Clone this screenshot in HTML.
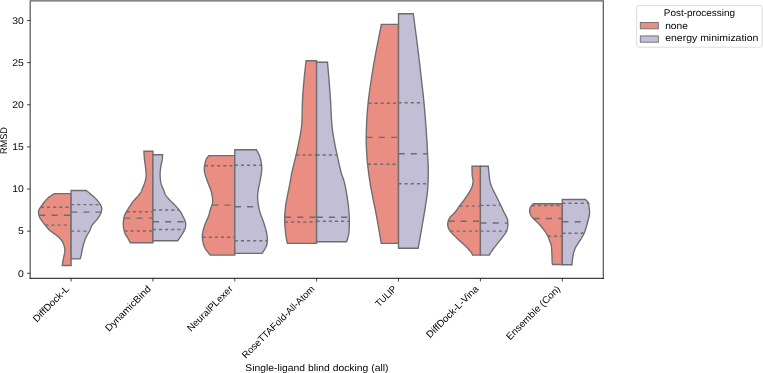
<!DOCTYPE html>
<html><head><meta charset="utf-8"><style>
html,body{margin:0;padding:0;background:#fff;width:763px;height:373px;overflow:hidden}
svg{display:block}
.t{font-family:"Liberation Sans",sans-serif;font-size:9.7px;fill:#000;text-rendering:geometricPrecision}
</style></head><body>
<svg width="763" height="373" viewBox="0 0 763 373">
<path d="M71.1 193.6L54.5 193.6L53.78 194.06L52.77 194.68L51.57 195.42L50.31 196.25L49.08 197.12L48 198L47.04 198.91L46.12 199.88L45.23 200.9L44.38 201.94L43.57 202.98L42.8 204L42.05 205.03L41.3 206.11L40.6 207.19L39.96 208.22L39.42 209.17L39 210L38.72 210.65L38.55 211.15L38.48 211.56L38.47 211.96L38.52 212.42L38.6 213L38.69 213.69L38.8 214.44L38.96 215.25L39.2 216.11L39.54 217.03L40 218L40.62 219.06L41.38 220.22L42.24 221.44L43.16 222.67L44.1 223.87L45 225L45.89 226.08L46.81 227.16L47.74 228.21L48.67 229.21L49.59 230.14L50.5 231L51.41 231.76L52.33 232.44L53.24 233.05L54.12 233.62L54.95 234.16L55.7 234.7L56.37 235.21L56.96 235.69L57.51 236.13L58.01 236.57L58.51 237.02L59 237.5L59.5 238.01L59.98 238.53L60.44 239.07L60.89 239.61L61.31 240.16L61.7 240.7L62.06 241.24L62.39 241.77L62.7 242.3L62.99 242.84L63.25 243.41L63.5 244L63.73 244.63L63.95 245.3L64.15 245.98L64.33 246.67L64.48 247.35L64.6 248L64.7 248.61L64.77 249.2L64.82 249.77L64.84 250.36L64.83 250.96L64.8 251.6L64.73 252.28L64.62 252.98L64.48 253.7L64.33 254.44L64.16 255.21L64 256L63.83 256.83L63.64 257.71L63.44 258.61L63.24 259.5L63.06 260.38L62.9 261.2L62.76 262.02L62.64 262.86L62.53 263.67L62.44 264.42L62.36 265.04L62.3 265.5L71.1 265.5Z" fill="#ea8e83" stroke="#6d6d6d" stroke-width="1.36" stroke-linejoin="miter"/>
<line x1="40.9" y1="207.2" x2="71.1" y2="207.2" stroke="#6d6d6d" stroke-width="1.36" stroke-dasharray="3.06 3.06"/>
<line x1="39.3" y1="215.3" x2="71.1" y2="215.3" stroke="#6d6d6d" stroke-width="1.36" stroke-dasharray="6.12 6.12"/>
<line x1="45.34" y1="225.1" x2="71.1" y2="225.1" stroke="#6d6d6d" stroke-width="1.36" stroke-dasharray="3.06 3.06"/>
<path d="M71.1 190.5L86.2 190.5L86.84 191.01L87.73 191.71L88.79 192.55L89.91 193.45L91.01 194.36L92 195.2L92.9 195.99L93.78 196.79L94.64 197.58L95.47 198.38L96.26 199.19L97 200L97.7 200.83L98.36 201.69L98.98 202.55L99.55 203.4L100.06 204.22L100.5 205L100.87 205.71L101.19 206.37L101.45 207L101.64 207.63L101.76 208.29L101.8 209L101.76 209.77L101.64 210.57L101.45 211.41L101.19 212.26L100.87 213.13L100.5 214L100.06 214.89L99.54 215.8L98.97 216.72L98.34 217.65L97.68 218.58L97 219.5L96.25 220.41L95.41 221.31L94.54 222.22L93.69 223.13L92.89 224.05L92.2 225L91.64 225.99L91.16 227.04L90.75 228.09L90.37 229.13L90 230.11L89.6 231L89.19 231.77L88.78 232.44L88.38 233.06L87.99 233.67L87.59 234.3L87.2 235L86.81 235.75L86.42 236.52L86.03 237.31L85.65 238.15L85.27 239.04L84.9 240L84.53 241.04L84.17 242.15L83.81 243.31L83.46 244.52L83.12 245.75L82.8 247L82.5 248.32L82.21 249.74L81.94 251.19L81.68 252.6L81.43 253.89L81.2 255L80.98 255.93L80.76 256.75L80.55 257.45L80.37 258.04L80.21 258.52L80.1 258.9L71.1 258.9Z" fill="#c1bed6" stroke="#6d6d6d" stroke-width="1.36" stroke-linejoin="miter"/>
<line x1="71.1" y1="204.6" x2="99.98" y2="204.6" stroke="#6d6d6d" stroke-width="1.36" stroke-dasharray="3.06 3.06"/>
<line x1="71.1" y1="212.1" x2="100.94" y2="212.1" stroke="#6d6d6d" stroke-width="1.36" stroke-dasharray="6.12 6.12"/>
<line x1="71.1" y1="231.1" x2="89.36" y2="231.1" stroke="#6d6d6d" stroke-width="1.36" stroke-dasharray="3.06 3.06"/>
<path d="M152.9 151.3L143.9 151.3L143.93 151.82L143.98 152.55L144.03 153.41L144.09 154.33L144.15 155.21L144.2 156L144.24 156.66L144.28 157.26L144.32 157.83L144.36 158.41L144.42 159.06L144.5 159.8L144.61 160.66L144.73 161.61L144.88 162.62L145.02 163.66L145.17 164.69L145.3 165.7L145.43 166.68L145.57 167.67L145.7 168.65L145.82 169.63L145.93 170.62L146 171.6L146.06 172.58L146.11 173.57L146.14 174.55L146.14 175.53L146.09 176.52L146 177.5L145.84 178.5L145.63 179.51L145.37 180.52L145.09 181.52L144.79 182.49L144.5 183.4L144.2 184.26L143.89 185.09L143.56 185.88L143.23 186.64L142.9 187.38L142.6 188.1L142.33 188.8L142.09 189.47L141.85 190.11L141.6 190.74L141.33 191.37L141 192L140.64 192.61L140.26 193.19L139.86 193.76L139.4 194.35L138.89 194.99L138.3 195.7L137.6 196.5L136.79 197.37L135.91 198.29L135.03 199.24L134.17 200.18L133.4 201.1L132.71 202L132.06 202.9L131.45 203.81L130.86 204.71L130.28 205.61L129.7 206.5L129.11 207.41L128.51 208.35L127.92 209.29L127.37 210.19L126.85 211.04L126.4 211.8L126.02 212.43L125.69 212.96L125.41 213.42L125.16 213.88L124.93 214.39L124.7 215L124.47 215.74L124.26 216.56L124.06 217.43L123.89 218.31L123.73 219.18L123.6 220L123.49 220.77L123.41 221.5L123.35 222.23L123.31 222.94L123.29 223.66L123.3 224.4L123.33 225.15L123.37 225.91L123.44 226.68L123.54 227.44L123.66 228.22L123.8 229L123.97 229.79L124.15 230.59L124.36 231.4L124.6 232.21L124.88 233.01L125.2 233.8L125.59 234.58L126.05 235.36L126.54 236.13L127.05 236.9L127.55 237.65L128 238.4L128.44 239.18L128.89 240.01L129.32 240.84L129.72 241.6L130.06 242.24L130.3 242.7L152.9 242.7Z" fill="#ea8e83" stroke="#6d6d6d" stroke-width="1.36" stroke-linejoin="miter"/>
<line x1="126.67" y1="211.8" x2="152.9" y2="211.8" stroke="#6d6d6d" stroke-width="1.36" stroke-dasharray="3.06 3.06"/>
<line x1="124.22" y1="218.1" x2="152.9" y2="218.1" stroke="#6d6d6d" stroke-width="1.36" stroke-dasharray="6.12 6.12"/>
<line x1="124.54" y1="231" x2="152.9" y2="231" stroke="#6d6d6d" stroke-width="1.36" stroke-dasharray="3.06 3.06"/>
<path d="M152.9 154.7L162.6 154.7L162.58 154.94L162.55 155.28L162.51 155.67L162.47 156.11L162.44 156.56L162.4 157L162.38 157.4L162.37 157.78L162.36 158.18L162.34 158.62L162.29 159.15L162.2 159.8L162.05 160.6L161.86 161.54L161.64 162.56L161.41 163.62L161.19 164.68L161 165.7L160.83 166.68L160.67 167.67L160.53 168.65L160.39 169.63L160.28 170.62L160.2 171.6L160.14 172.58L160.11 173.57L160.1 174.55L160.11 175.53L160.14 176.52L160.2 177.5L160.28 178.5L160.37 179.51L160.49 180.52L160.63 181.52L160.8 182.49L161 183.4L161.25 184.27L161.54 185.1L161.86 185.91L162.19 186.67L162.51 187.41L162.8 188.1L163.05 188.73L163.28 189.3L163.5 189.83L163.72 190.36L163.95 190.9L164.2 191.5L164.44 192.14L164.66 192.8L164.89 193.48L165.16 194.18L165.52 194.92L166 195.7L166.62 196.53L167.36 197.41L168.18 198.32L169.04 199.26L169.93 200.19L170.8 201.1L171.68 202L172.6 202.9L173.53 203.81L174.46 204.71L175.36 205.61L176.2 206.5L177.01 207.41L177.8 208.33L178.56 209.26L179.28 210.16L179.93 211.01L180.5 211.8L180.96 212.5L181.33 213.12L181.63 213.7L181.9 214.27L182.18 214.86L182.5 215.5L182.87 216.2L183.26 216.94L183.66 217.71L184.05 218.48L184.4 219.25L184.7 220L184.96 220.74L185.19 221.47L185.39 222.19L185.54 222.92L185.65 223.66L185.7 224.4L185.69 225.15L185.63 225.91L185.52 226.68L185.36 227.44L185.15 228.22L184.9 229L184.58 229.8L184.19 230.63L183.75 231.46L183.29 232.27L182.83 233.06L182.4 233.8L181.99 234.48L181.59 235.13L181.19 235.74L180.79 236.34L180.39 236.92L180 237.5L179.58 238.11L179.14 238.75L178.7 239.38L178.29 239.96L177.95 240.45L177.7 240.8L152.9 240.8Z" fill="#c1bed6" stroke="#6d6d6d" stroke-width="1.36" stroke-linejoin="miter"/>
<line x1="152.9" y1="210" x2="178.89" y2="210" stroke="#6d6d6d" stroke-width="1.36" stroke-dasharray="3.06 3.06"/>
<line x1="152.9" y1="221.8" x2="184.96" y2="221.8" stroke="#6d6d6d" stroke-width="1.36" stroke-dasharray="6.12 6.12"/>
<line x1="152.9" y1="229.5" x2="184.38" y2="229.5" stroke="#6d6d6d" stroke-width="1.36" stroke-dasharray="3.06 3.06"/>
<path d="M234.8 155.6L208.8 155.6L208.47 156.03L208 156.6L207.45 157.29L206.88 158.09L206.34 159L205.9 160L205.53 161.17L205.19 162.54L204.88 164.01L204.61 165.5L204.42 166.93L204.3 168.2L204.27 169.3L204.31 170.3L204.43 171.22L204.59 172.13L204.78 173.04L205 174L205.25 175L205.55 176.01L205.88 177.04L206.24 178.07L206.62 179.13L207 180.2L207.41 181.31L207.84 182.45L208.3 183.61L208.76 184.76L209.19 185.9L209.6 187L209.98 188.02L210.34 188.98L210.69 189.92L211.02 190.89L211.33 191.93L211.6 193.1L211.87 194.44L212.16 195.93L212.41 197.49L212.61 199.07L212.72 200.59L212.7 202L212.52 203.28L212.2 204.48L211.79 205.62L211.33 206.74L210.89 207.86L210.5 209L210.19 210.11L209.93 211.17L209.68 212.23L209.4 213.34L209.05 214.54L208.6 215.9L208 217.44L207.26 219.14L206.46 220.93L205.65 222.77L204.91 224.61L204.3 226.4L203.78 228.14L203.3 229.87L202.89 231.6L202.56 233.33L202.36 235.06L202.3 236.8L202.4 238.58L202.62 240.39L202.97 242.21L203.42 244L203.97 245.71L204.6 247.3L205.42 248.85L206.46 250.39L207.59 251.86L208.7 253.18L209.64 254.28L210.3 255.1L234.8 255.1Z" fill="#ea8e83" stroke="#6d6d6d" stroke-width="1.36" stroke-linejoin="miter"/>
<line x1="204.88" y1="165.8" x2="234.8" y2="165.8" stroke="#6d6d6d" stroke-width="1.36" stroke-dasharray="3.06 3.06"/>
<line x1="212.2" y1="205.1" x2="234.8" y2="205.1" stroke="#6d6d6d" stroke-width="1.36" stroke-dasharray="6.12 6.12"/>
<line x1="202.65" y1="237.2" x2="234.8" y2="237.2" stroke="#6d6d6d" stroke-width="1.36" stroke-dasharray="3.06 3.06"/>
<path d="M234.8 149.7L256.4 149.7L256.76 150.35L257.27 151.23L257.88 152.29L258.5 153.47L259.1 154.72L259.6 156L260.03 157.37L260.43 158.87L260.81 160.46L261.13 162.05L261.4 163.58L261.6 165L261.72 166.26L261.77 167.41L261.77 168.5L261.71 169.59L261.62 170.74L261.5 172L261.33 173.38L261.11 174.85L260.85 176.38L260.57 177.93L260.28 179.48L260 181L259.72 182.52L259.41 184.07L259.1 185.62L258.8 187.15L258.53 188.62L258.3 190L258.11 191.28L257.94 192.48L257.81 193.62L257.7 194.74L257.63 195.86L257.6 197L257.61 198.14L257.65 199.26L257.73 200.38L257.85 201.52L258 202.72L258.2 204L258.44 205.38L258.71 206.85L259.03 208.38L259.39 209.93L259.78 211.48L260.2 213L260.68 214.5L261.23 216L261.81 217.5L262.4 219L262.97 220.5L263.5 222L264 223.52L264.5 225.05L264.99 226.59L265.44 228.1L265.85 229.58L266.2 231L266.5 232.35L266.76 233.64L266.97 234.9L267.14 236.13L267.25 237.36L267.3 238.6L267.31 239.84L267.27 241.08L267.19 242.31L267.03 243.54L266.77 244.77L266.4 246L265.83 247.32L265.06 248.74L264.19 250.16L263.34 251.48L262.61 252.59L262.1 253.4L234.8 253.4Z" fill="#c1bed6" stroke="#6d6d6d" stroke-width="1.36" stroke-linejoin="miter"/>
<line x1="234.8" y1="165.3" x2="261.36" y2="165.3" stroke="#6d6d6d" stroke-width="1.36" stroke-dasharray="3.06 3.06"/>
<line x1="234.8" y1="206.7" x2="258.45" y2="206.7" stroke="#6d6d6d" stroke-width="1.36" stroke-dasharray="6.12 6.12"/>
<line x1="234.8" y1="240.7" x2="266.96" y2="240.7" stroke="#6d6d6d" stroke-width="1.36" stroke-dasharray="3.06 3.06"/>
<path d="M316.6 60.7L306.1 60.7L305.86 62.79L305.53 65.68L305.14 69.1L304.73 72.8L304.34 76.52L304 80L303.71 83.23L303.43 86.43L303.17 89.64L302.93 92.94L302.7 96.37L302.5 100L302.35 103.97L302.26 108.24L302.19 112.66L302.1 117.04L301.95 121.22L301.7 125L301.34 128.4L300.88 131.54L300.37 134.48L299.83 137.24L299.3 139.87L298.8 142.4L298.35 144.73L297.94 146.79L297.53 148.73L297.1 150.65L296.63 152.7L296.1 155L295.48 157.62L294.77 160.49L294.03 163.47L293.29 166.47L292.6 169.35L292 172L291.49 174.44L291.05 176.78L290.66 179L290.29 181.11L289.95 183.11L289.6 185L289.26 186.74L288.95 188.33L288.65 189.81L288.36 191.22L288.08 192.6L287.8 194L287.51 195.39L287.23 196.74L286.95 198.06L286.68 199.37L286.43 200.68L286.2 202L285.99 203.31L285.81 204.6L285.64 205.88L285.48 207.19L285.34 208.56L285.2 210L285.06 211.54L284.92 213.15L284.79 214.82L284.69 216.51L284.62 218.22L284.6 219.9L284.64 221.61L284.73 223.37L284.86 225.13L285.01 226.86L285.16 228.49L285.3 230L285.42 231.35L285.54 232.59L285.66 233.73L285.79 234.83L285.94 235.9L286.1 237L286.3 238.18L286.54 239.41L286.8 240.64L287.04 241.76L287.25 242.71L287.4 243.4L316.6 243.4Z" fill="#ea8e83" stroke="#6d6d6d" stroke-width="1.36" stroke-linejoin="miter"/>
<line x1="296.31" y1="155" x2="316.6" y2="155" stroke="#6d6d6d" stroke-width="1.36" stroke-dasharray="3.06 3.06"/>
<line x1="284.98" y1="217.2" x2="316.6" y2="217.2" stroke="#6d6d6d" stroke-width="1.36" stroke-dasharray="6.12 6.12"/>
<line x1="284.98" y1="222" x2="316.6" y2="222" stroke="#6d6d6d" stroke-width="1.36" stroke-dasharray="3.06 3.06"/>
<path d="M316.6 62.2L327.5 62.2L327.66 64.11L327.89 66.73L328.16 69.85L328.44 73.24L328.73 76.7L329 80L329.25 83.15L329.5 86.32L329.76 89.55L330.01 92.88L330.26 96.35L330.5 100L330.73 103.97L330.93 108.24L331.13 112.66L331.35 117.04L331.6 121.22L331.9 125L332.26 128.4L332.68 131.54L333.12 134.48L333.59 137.24L334.05 139.87L334.5 142.4L334.92 144.73L335.32 146.79L335.72 148.73L336.14 150.65L336.59 152.7L337.1 155L337.69 157.68L338.35 160.67L339.04 163.79L339.74 166.84L340.4 169.64L341 172L341.53 173.84L342.01 175.3L342.46 176.5L342.89 177.59L343.3 178.71L343.7 180L344.09 181.43L344.46 182.9L344.82 184.39L345.16 185.9L345.49 187.44L345.8 189L346.1 190.59L346.39 192.23L346.66 193.89L346.91 195.55L347.16 197.19L347.4 198.8L347.63 200.36L347.85 201.9L348.06 203.42L348.25 204.93L348.43 206.46L348.6 208L348.75 209.59L348.9 211.22L349.03 212.86L349.14 214.47L349.23 216.03L349.3 217.5L349.35 218.87L349.37 220.15L349.37 221.38L349.36 222.57L349.33 223.77L349.3 225L349.26 226.27L349.22 227.57L349.17 228.88L349.1 230.15L349.01 231.37L348.9 232.5L348.76 233.55L348.59 234.55L348.4 235.49L348.2 236.37L348 237.21L347.8 238L347.59 238.76L347.36 239.5L347.13 240.19L346.91 240.81L346.73 241.32L346.6 241.7L316.6 241.7Z" fill="#c1bed6" stroke="#6d6d6d" stroke-width="1.36" stroke-linejoin="miter"/>
<line x1="316.6" y1="155" x2="336.9" y2="155" stroke="#6d6d6d" stroke-width="1.36" stroke-dasharray="3.06 3.06"/>
<line x1="316.6" y1="217.2" x2="348.96" y2="217.2" stroke="#6d6d6d" stroke-width="1.36" stroke-dasharray="6.12 6.12"/>
<line x1="316.6" y1="221.3" x2="349.04" y2="221.3" stroke="#6d6d6d" stroke-width="1.36" stroke-dasharray="3.06 3.06"/>
<path d="M398.5 24.4L381.4 24.4L380.69 27.97L379.69 32.91L378.51 38.76L377.27 45.04L376.06 51.28L375 57L374.06 62.34L373.14 67.71L372.27 73.04L371.44 78.24L370.68 83.26L370 88L369.4 92.39L368.87 96.48L368.41 100.38L368 104.19L367.63 108.02L367.3 112L367 116.19L366.75 120.52L366.54 124.88L366.38 129.15L366.27 133.23L366.2 137L366.19 140.42L366.23 143.56L366.32 146.5L366.46 149.33L366.62 152.14L366.8 155L367.01 157.88L367.24 160.7L367.51 163.5L367.81 166.3L368.14 169.12L368.5 172L368.88 174.86L369.27 177.67L369.69 180.5L370.16 183.44L370.69 186.58L371.3 190L372.01 193.72L372.8 197.69L373.66 201.85L374.55 206.16L375.44 210.56L376.3 215L377.19 219.87L378.15 225.27L379.11 230.76L380 235.91L380.76 240.27L381.3 243.4L398.5 243.4Z" fill="#ea8e83" stroke="#6d6d6d" stroke-width="1.36" stroke-linejoin="miter"/>
<line x1="368.41" y1="103.2" x2="398.5" y2="103.2" stroke="#6d6d6d" stroke-width="1.36" stroke-dasharray="3.06 3.06"/>
<line x1="366.52" y1="137.4" x2="398.5" y2="137.4" stroke="#6d6d6d" stroke-width="1.36" stroke-dasharray="6.12 6.12"/>
<line x1="367.91" y1="164.3" x2="398.5" y2="164.3" stroke="#6d6d6d" stroke-width="1.36" stroke-dasharray="3.06 3.06"/>
<path d="M398.5 13.7L413.3 13.7L413.83 17.72L414.56 23.34L415.43 29.98L416.35 37.02L417.23 43.89L418 50L418.66 55.45L419.29 60.73L419.89 65.83L420.45 70.75L420.99 75.48L421.5 80L421.98 84.19L422.42 88.04L422.83 91.69L423.23 95.3L423.61 99.02L424 103L424.39 107.3L424.79 111.81L425.17 116.44L425.54 121.07L425.88 125.63L426.2 130L426.49 134.24L426.75 138.44L426.99 142.56L427.21 146.56L427.42 150.38L427.6 154L427.77 157.35L427.94 160.44L428.08 163.38L428.2 166.22L428.27 169.07L428.3 172L428.28 175.03L428.22 178.11L428.12 181.19L427.98 184.22L427.81 187.17L427.6 190L427.35 192.65L427.06 195.15L426.73 197.56L426.37 199.96L425.99 202.42L425.6 205L425.2 207.61L424.79 210.18L424.36 212.8L423.9 215.58L423.38 218.61L422.8 222L422.08 226.14L421.23 231.02L420.33 236.16L419.46 241.07L418.72 245.24L418.2 248.2L398.5 248.2Z" fill="#c1bed6" stroke="#6d6d6d" stroke-width="1.36" stroke-linejoin="miter"/>
<line x1="398.5" y1="102.8" x2="423.73" y2="102.8" stroke="#6d6d6d" stroke-width="1.36" stroke-dasharray="3.06 3.06"/>
<line x1="398.5" y1="153.8" x2="427.3" y2="153.8" stroke="#6d6d6d" stroke-width="1.36" stroke-dasharray="6.12 6.12"/>
<line x1="398.5" y1="183.8" x2="427.71" y2="183.8" stroke="#6d6d6d" stroke-width="1.36" stroke-dasharray="3.06 3.06"/>
<path d="M480.4 166.3L472 166.3L472.01 166.95L472.03 167.86L472.04 168.94L472.06 170.06L472.08 171.12L472.1 172L472.11 172.66L472.1 173.18L472.1 173.64L472.11 174.11L472.14 174.67L472.2 175.4L472.34 176.33L472.55 177.39L472.78 178.54L472.99 179.74L473.11 180.95L473.1 182.1L472.96 183.22L472.72 184.33L472.41 185.45L472.02 186.57L471.58 187.68L471.1 188.8L470.55 189.92L469.93 191.04L469.26 192.16L468.54 193.28L467.82 194.39L467.1 195.5L466.36 196.62L465.59 197.77L464.79 198.92L464.01 200.03L463.27 201.06L462.6 202L462.02 202.79L461.51 203.44L461.05 204.02L460.59 204.6L460.08 205.23L459.5 206L458.83 206.92L458.1 207.96L457.34 209.06L456.55 210.17L455.77 211.23L455 212.2L454.22 213.07L453.41 213.89L452.6 214.66L451.82 215.39L451.11 216.1L450.5 216.8L449.99 217.45L449.57 218.05L449.21 218.62L448.9 219.2L448.64 219.81L448.4 220.5L448.18 221.26L447.97 222.07L447.81 222.91L447.71 223.79L447.7 224.69L447.8 225.6L447.99 226.52L448.26 227.45L448.61 228.41L449.07 229.39L449.66 230.42L450.4 231.5L451.34 232.65L452.46 233.86L453.71 235.11L455.03 236.38L456.38 237.65L457.7 238.9L459.04 240.15L460.45 241.42L461.88 242.69L463.29 243.94L464.61 245.15L465.8 246.3L466.88 247.4L467.89 248.49L468.81 249.53L469.65 250.51L470.38 251.41L471 252.2L471.48 252.89L471.83 253.5L472.07 254.02L472.25 254.46L472.38 254.82L472.5 255.1L480.4 255.1Z" fill="#ea8e83" stroke="#6d6d6d" stroke-width="1.36" stroke-linejoin="miter"/>
<line x1="459.64" y1="206.1" x2="480.4" y2="206.1" stroke="#6d6d6d" stroke-width="1.36" stroke-dasharray="3.06 3.06"/>
<line x1="448.49" y1="221.3" x2="480.4" y2="221.3" stroke="#6d6d6d" stroke-width="1.36" stroke-dasharray="6.12 6.12"/>
<line x1="450.43" y1="231.1" x2="480.4" y2="231.1" stroke="#6d6d6d" stroke-width="1.36" stroke-dasharray="3.06 3.06"/>
<path d="M480.4 166.3L488.3 166.3L488.36 166.95L488.43 167.86L488.52 168.94L488.62 170.06L488.72 171.12L488.8 172L488.87 172.66L488.92 173.18L488.97 173.64L489.03 174.11L489.11 174.67L489.2 175.4L489.3 176.33L489.41 177.39L489.52 178.54L489.67 179.74L489.86 180.95L490.1 182.1L490.4 183.22L490.75 184.33L491.14 185.45L491.57 186.57L492.02 187.68L492.5 188.8L493.01 189.92L493.56 191.03L494.14 192.15L494.74 193.27L495.33 194.38L495.9 195.5L496.47 196.65L497.06 197.83L497.64 199.02L498.2 200.17L498.73 201.24L499.2 202.2L499.6 203L499.94 203.67L500.24 204.26L500.53 204.83L500.84 205.46L501.2 206.2L501.61 207.08L502.06 208.05L502.53 209.07L503 210.1L503.47 211.09L503.9 212L504.32 212.84L504.73 213.64L505.14 214.41L505.52 215.14L505.88 215.84L506.2 216.5L506.49 217.08L506.74 217.56L506.98 218.01L507.18 218.48L507.35 219.03L507.5 219.7L507.63 220.53L507.74 221.47L507.82 222.48L507.86 223.53L507.86 224.59L507.8 225.6L507.71 226.57L507.6 227.51L507.44 228.46L507.21 229.42L506.87 230.43L506.4 231.5L505.76 232.65L504.97 233.86L504.08 235.11L503.13 236.38L502.15 237.65L501.2 238.9L500.24 240.15L499.23 241.42L498.2 242.69L497.18 243.94L496.2 245.15L495.3 246.3L494.45 247.4L493.61 248.49L492.83 249.53L492.1 250.51L491.45 251.41L490.9 252.2L490.46 252.89L490.13 253.5L489.87 254.02L489.68 254.46L489.53 254.82L489.4 255.1L480.4 255.1Z" fill="#c1bed6" stroke="#6d6d6d" stroke-width="1.36" stroke-linejoin="miter"/>
<line x1="480.4" y1="205.4" x2="500.61" y2="205.4" stroke="#6d6d6d" stroke-width="1.36" stroke-dasharray="3.06 3.06"/>
<line x1="480.4" y1="223" x2="507.57" y2="223" stroke="#6d6d6d" stroke-width="1.36" stroke-dasharray="6.12 6.12"/>
<line x1="480.4" y1="231.1" x2="506.32" y2="231.1" stroke="#6d6d6d" stroke-width="1.36" stroke-dasharray="3.06 3.06"/>
<path d="M562.3 203.7L533.4 203.7L533.06 204.05L532.57 204.52L532.01 205.08L531.43 205.7L530.9 206.35L530.5 207L530.21 207.66L529.97 208.36L529.78 209.09L529.66 209.84L529.59 210.58L529.6 211.3L529.69 212.02L529.86 212.75L530.09 213.48L530.37 214.19L530.68 214.87L531 215.5L531.29 216.03L531.57 216.45L531.87 216.84L532.24 217.27L532.74 217.8L533.4 218.5L534.29 219.41L535.39 220.49L536.6 221.66L537.85 222.88L539.04 224.08L540.1 225.2L541.03 226.25L541.91 227.28L542.73 228.29L543.5 229.29L544.23 230.25L544.9 231.2L545.52 232.13L546.1 233.06L546.62 233.97L547.09 234.84L547.52 235.65L547.9 236.4L548.21 237.03L548.43 237.54L548.61 238L548.77 238.47L548.96 239.02L549.2 239.7L549.52 240.52L549.9 241.41L550.29 242.38L550.68 243.42L551.03 244.53L551.3 245.7L551.49 246.97L551.63 248.36L551.72 249.82L551.79 251.29L551.84 252.74L551.9 254.1L551.95 255.43L551.99 256.77L552.01 258.08L552.03 259.32L552.06 260.44L552.1 261.4L552.16 262.2L552.23 262.86L552.31 263.41L552.39 263.85L552.45 264.21L552.5 264.5L562.3 264.5Z" fill="#ea8e83" stroke="#6d6d6d" stroke-width="1.36" stroke-linejoin="miter"/>
<line x1="531.92" y1="205.5" x2="562.3" y2="205.5" stroke="#6d6d6d" stroke-width="1.36" stroke-dasharray="3.06 3.06"/>
<line x1="533.69" y1="218.5" x2="562.3" y2="218.5" stroke="#6d6d6d" stroke-width="1.36" stroke-dasharray="6.12 6.12"/>
<line x1="547.94" y1="236.2" x2="562.3" y2="236.2" stroke="#6d6d6d" stroke-width="1.36" stroke-dasharray="3.06 3.06"/>
<path d="M562.3 199.5L585.5 199.5L585.86 199.87L586.37 200.39L586.97 200.99L587.57 201.66L588.11 202.34L588.5 203L588.73 203.63L588.85 204.25L588.9 204.89L588.92 205.57L588.94 206.3L589 207.1L589.12 207.99L589.26 208.96L589.41 209.98L589.53 211.03L589.6 212.08L589.6 213.1L589.51 214.08L589.36 215.05L589.16 216.02L588.92 217L588.66 218.02L588.4 219.1L588.13 220.25L587.83 221.46L587.52 222.71L587.19 223.97L586.85 225.21L586.5 226.4L586.14 227.56L585.78 228.71L585.4 229.84L585.01 230.94L584.61 232L584.2 233L583.78 233.93L583.34 234.8L582.89 235.63L582.43 236.43L581.97 237.21L581.5 238L581.03 238.78L580.55 239.53L580.06 240.26L579.57 241L579.09 241.74L578.6 242.5L578.1 243.29L577.59 244.1L577.08 244.92L576.58 245.73L576.11 246.53L575.7 247.3L575.34 248.04L575.01 248.76L574.73 249.46L574.46 250.15L574.22 250.83L574 251.5L573.8 252.15L573.63 252.76L573.49 253.37L573.36 253.98L573.23 254.62L573.1 255.3L572.97 256.03L572.84 256.8L572.72 257.59L572.6 258.4L572.5 259.21L572.4 260L572.31 260.84L572.23 261.74L572.16 262.64L572.09 263.48L572.04 264.19L572 264.7L562.3 264.7Z" fill="#c1bed6" stroke="#6d6d6d" stroke-width="1.36" stroke-linejoin="miter"/>
<line x1="562.3" y1="203.2" x2="588.31" y2="203.2" stroke="#6d6d6d" stroke-width="1.36" stroke-dasharray="3.06 3.06"/>
<line x1="562.3" y1="221.8" x2="587.49" y2="221.8" stroke="#6d6d6d" stroke-width="1.36" stroke-dasharray="6.12 6.12"/>
<line x1="562.3" y1="233.2" x2="583.89" y2="233.2" stroke="#6d6d6d" stroke-width="1.36" stroke-dasharray="3.06 3.06"/>
<path d="M30.2 0.25V278.8M603.3 0.25V278.8M29.55 0.9H603.9499999999999" fill="none" stroke="#606060" stroke-width="1.3"/>
<path d="M29.55 278.3H603.9499999999999" fill="none" stroke="#111" stroke-width="1.0"/>
<g style="opacity:0.995">
<line x1="27.03" y1="273.3" x2="30.2" y2="273.3" stroke="#000" stroke-width="0.73"/>
<text x="23.85" y="276.6" text-anchor="end" class="t" textLength="5.77" lengthAdjust="spacingAndGlyphs">0</text>
<line x1="27.03" y1="231.17" x2="30.2" y2="231.17" stroke="#000" stroke-width="0.73"/>
<text x="23.85" y="234.47" text-anchor="end" class="t" textLength="5.77" lengthAdjust="spacingAndGlyphs">5</text>
<line x1="27.03" y1="189.03" x2="30.2" y2="189.03" stroke="#000" stroke-width="0.73"/>
<text x="23.85" y="192.33" text-anchor="end" class="t" textLength="11.54" lengthAdjust="spacingAndGlyphs">10</text>
<line x1="27.03" y1="146.9" x2="30.2" y2="146.9" stroke="#000" stroke-width="0.73"/>
<text x="23.85" y="150.2" text-anchor="end" class="t" textLength="11.54" lengthAdjust="spacingAndGlyphs">15</text>
<line x1="27.03" y1="104.77" x2="30.2" y2="104.77" stroke="#000" stroke-width="0.73"/>
<text x="23.85" y="108.07" text-anchor="end" class="t" textLength="11.54" lengthAdjust="spacingAndGlyphs">20</text>
<line x1="27.03" y1="62.63" x2="30.2" y2="62.63" stroke="#000" stroke-width="0.73"/>
<text x="23.85" y="65.93" text-anchor="end" class="t" textLength="11.54" lengthAdjust="spacingAndGlyphs">25</text>
<line x1="27.03" y1="20.5" x2="30.2" y2="20.5" stroke="#000" stroke-width="0.73"/>
<text x="23.85" y="23.8" text-anchor="end" class="t" textLength="11.54" lengthAdjust="spacingAndGlyphs">30</text>
<line x1="71.1" y1="278.3" x2="71.1" y2="281.47" stroke="#000" stroke-width="0.73"/>
<text transform="translate(69.76 289.53) rotate(-45)" text-anchor="end" class="t" textLength="46.85" lengthAdjust="spacingAndGlyphs">DiffDock-L</text>
<line x1="152.9" y1="278.3" x2="152.9" y2="281.47" stroke="#000" stroke-width="0.73"/>
<text transform="translate(151.56 289.53) rotate(-45)" text-anchor="end" class="t" textLength="60.25" lengthAdjust="spacingAndGlyphs">DynamicBind</text>
<line x1="234.8" y1="278.3" x2="234.8" y2="281.47" stroke="#000" stroke-width="0.73"/>
<text transform="translate(233.46 289.53) rotate(-45)" text-anchor="end" class="t" textLength="60.1" lengthAdjust="spacingAndGlyphs">NeuralPLexer</text>
<line x1="316.6" y1="278.3" x2="316.6" y2="281.47" stroke="#000" stroke-width="0.73"/>
<text transform="translate(315.26 289.53) rotate(-45)" text-anchor="end" class="t" textLength="98.27" lengthAdjust="spacingAndGlyphs">RoseTTAFold-All-Atom</text>
<line x1="398.5" y1="278.3" x2="398.5" y2="281.47" stroke="#000" stroke-width="0.73"/>
<text transform="translate(397.16 289.53) rotate(-45)" text-anchor="end" class="t" textLength="25.38" lengthAdjust="spacingAndGlyphs">TULIP</text>
<line x1="480.4" y1="278.3" x2="480.4" y2="281.47" stroke="#000" stroke-width="0.73"/>
<text transform="translate(479.06 289.53) rotate(-45)" text-anchor="end" class="t" textLength="69.27" lengthAdjust="spacingAndGlyphs">DiffDock-L-Vina</text>
<line x1="562.3" y1="278.3" x2="562.3" y2="281.47" stroke="#000" stroke-width="0.73"/>
<text transform="translate(560.96 289.53) rotate(-45)" text-anchor="end" class="t" textLength="72.07" lengthAdjust="spacingAndGlyphs">Ensemble (Con)</text>
<text x="316.85" y="371" text-anchor="middle" class="t" textLength="143.22" lengthAdjust="spacingAndGlyphs">Single-ligand blind docking (all)</text>
<text transform="translate(7.2 140.5) rotate(-90)" text-anchor="middle" class="t" textLength="26.87" lengthAdjust="spacingAndGlyphs">RMSD</text>
<rect x="636.7" y="5.4" width="125.4" height="41.8" rx="2" fill="#fff" fill-opacity="0.8" stroke="#ccc" stroke-width="0.73"/>
<text x="699.4" y="15.8" text-anchor="middle" class="t" textLength="71.13" lengthAdjust="spacingAndGlyphs">Post-processing</text>
<rect x="640.3" y="22.5" width="18" height="6.3" fill="#ea8e83" stroke="#6d6d6d" stroke-width="0.9"/>
<rect x="640.3" y="35.9" width="18" height="6.3" fill="#c1bed6" stroke="#6d6d6d" stroke-width="0.9"/>
<text x="665.2" y="28.8" class="t" textLength="22.63" lengthAdjust="spacingAndGlyphs">none</text>
<text x="665.2" y="40.9" class="t" textLength="93.16" lengthAdjust="spacingAndGlyphs">energy minimization</text>
</g>
</svg>
</body></html>
